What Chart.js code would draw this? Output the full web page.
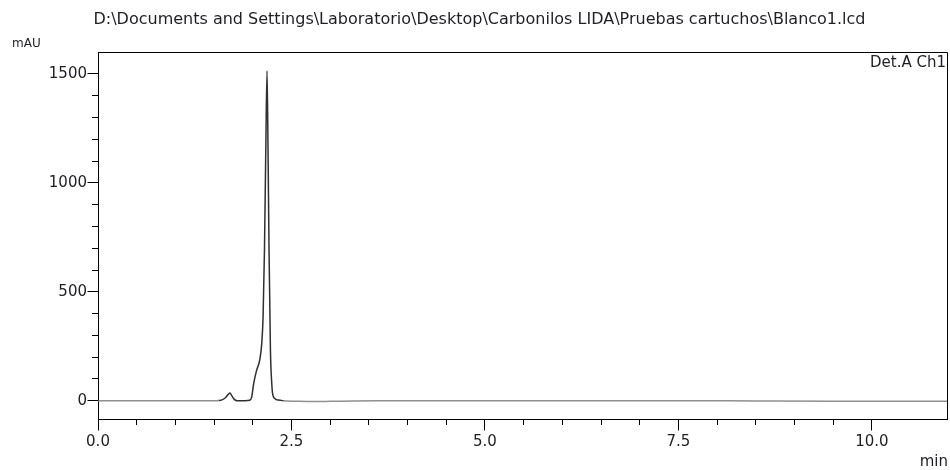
<!DOCTYPE html>
<html><head><meta charset="utf-8">
<script src="https://cdn.jsdelivr.net/npm/chart.js@4.4.0/dist/chart.umd.min.js"></script>
<style>html,body{margin:0;padding:0;background:#fff;}#wrap{position:relative;width:950px;height:470px;}</style>
</head><body><div id="wrap"><canvas id="c" width="950" height="470"></canvas></div>
<script>
// ---- data ----
const times = [0, 0.5, 1.0, 1.5, 1.56, 1.61, 1.65, 1.68, 1.705, 1.73, 1.76, 1.8, 1.9, 1.96, 1.985, 2.012, 2.05, 2.09, 2.116, 2.133, 2.151, 2.168, 2.184, 2.197, 2.21, 2.228, 2.245, 2.255, 2.284, 2.33, 2.4, 2.6, 2.8, 3.0, 3.3, 3.6, 4.5, 5.5, 6.5, 7.5, 8.5, 9.5, 10.5, 11.0];
const absorbance = [0, 0, 0, 0, 1, 5, 15, 28, 35, 22, 6, 0, 0, 2, 15, 80, 140, 187, 263, 386, 692, 1151, 1515, 1151, 692, 233, 80, 35, 10, 3, 0, -3, -4, -3, -1, 0, 0, 0, 0, 0, -1, -2, -2, -2];
const xTickLabels = ['0.0', '2.5', '5.0', '7.5', '10.0'];
const yTickLabels = ['0', '500', '1000', '1500'];
const titleText = 'D:\\Documents and Settings\\Laboratorio\\Desktop\\Carbonilos LIDA\\Pruebas cartuchos\\Blanco1.lcd';
const yUnit = 'mAU';
const xUnit = 'min';
const channelName = 'Det.A Ch1';

const FONT = 'DejaVu Sans';
const TXT = '#1e1e24';

const keepMultiples = (step) => (scale) => {
  scale.ticks = scale.ticks.filter(t => Math.abs(t.value / step - Math.round(t.value / step)) < 1e-6);
};
const align = p => Math.round(p - 0.5) + 0.5;

const framePlugin = {
  id: 'frame',
  afterDraw(chart) {
    const {ctx, chartArea: a, scales} = chart;
    ctx.save();
    ctx.strokeStyle = '#000';
    ctx.lineWidth = 1;
    ctx.beginPath();
    ctx.moveTo(align(a.left), align(a.top));
    ctx.lineTo(align(a.right), align(a.top));
    ctx.lineTo(align(a.right), align(a.bottom));
    // longer ticks at the labelled values
    yTickLabels.forEach(v => {
      const py = align(scales.y.getPixelForValue(Number(v)));
      ctx.moveTo(align(a.left) - 11, py);
      ctx.lineTo(align(a.left), py);
    });
    xTickLabels.forEach(v => {
      const px = align(scales.x.getPixelForValue(Number(v)));
      ctx.moveTo(px, align(a.bottom));
      ctx.lineTo(px, align(a.bottom) + 11);
    });
    ctx.stroke();
    ctx.fillStyle = TXT;
    ctx.textBaseline = 'middle';
    ctx.textAlign = 'left';
    ctx.font = '12px "' + FONT + '"';
    ctx.fillText(yUnit, 12, 44);
    ctx.textAlign = 'right';
    ctx.font = '15px "' + FONT + '"';
    ctx.fillText(channelName, 946, 63);
    ctx.fillText(xUnit, 948, 462);
    ctx.restore();
  }
};

new Chart(document.getElementById('c'), {
  type: 'line',
  data: {
    datasets: [{
      data: times.map((t, i) => ({x: t, y: absorbance[i]})),
      borderColor: '#7a7a7a',
      borderWidth: 1.5,
      pointRadius: 0,
      fill: false,
      cubicInterpolationMode: 'monotone',
      segment: {
        borderColor: c => (c.p0.parsed.x >= 1.55 && c.p1.parsed.x <= 2.45) ? '#303030' : '#8f8f8f'
      }
    }]
  },
  options: {
    responsive: false,
    animation: false,
    devicePixelRatio: 1,
    layout: {padding: {left: 12, right: 3, top: 0, bottom: 0}},
    plugins: {
      legend: {display: false},
      tooltip: {enabled: false},
      title: {
        display: true,
        text: titleText,
        color: TXT,
        font: {family: FONT, size: 16, weight: 'normal'},
        padding: {top: 10, bottom: 22.8}
      }
    },
    scales: {
      x: {
        type: 'linear', position: 'bottom', min: 0, max: 10.97,
        ticks: {
          stepSize: 0.5, autoSkip: false, maxRotation: 0, padding: 8,
          color: TXT, font: {family: FONT, size: 15},
          callback: v => { const s = v.toFixed(1); return xTickLabels.includes(s) ? s : ''; }
        },
        grid: {drawOnChartArea: false, drawTicks: true, tickLength: 6, color: '#000'},
        border: {color: '#000', width: 1},
        afterBuildTicks: keepMultiples(0.5),
        afterFit: s => { s.height = 51; }
      },
      y: {
        type: 'linear', position: 'left', min: -84, max: 1601,
        ticks: {
          stepSize: 100, autoSkip: false, padding: 5, color: TXT, font: {family: FONT, size: 15},
          callback: v => { const s = String(v); return yTickLabels.includes(s) ? s : ''; }
        },
        grid: {drawOnChartArea: false, drawTicks: true, tickLength: 6, color: '#000'},
        border: {color: '#000', width: 1},
        afterBuildTicks: keepMultiples(100),
        afterFit: s => { s.width = 86; }
      }
    }
  },
  plugins: [framePlugin]
});
</script></body></html>
